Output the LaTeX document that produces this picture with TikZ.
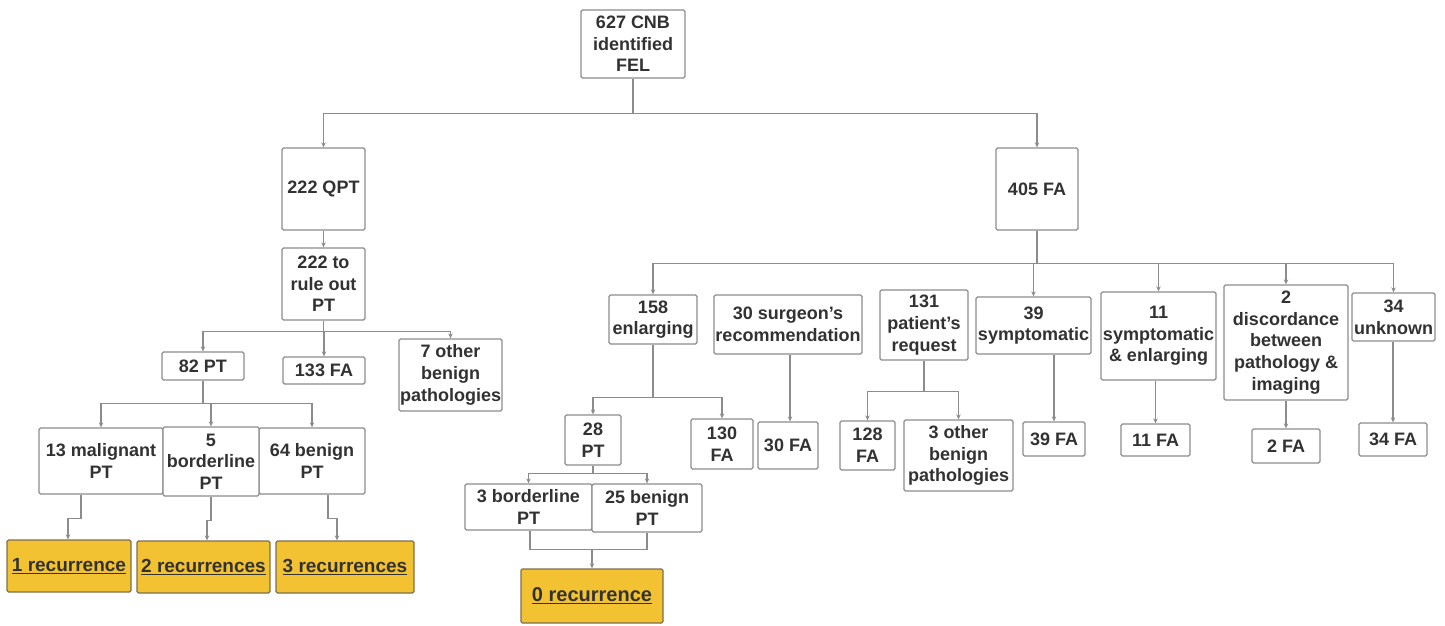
\documentclass[tikz,border=0pt]{standalone}
\usepackage{fontspec}
\setmainfont{Liberation Sans}
\usetikzlibrary{arrows.meta}
\definecolor{recfill}{RGB}{242,194,50}
\definecolor{recedge}{RGB}{125,112,80}
\definecolor{edge}{RGB}{140,140,140}
\definecolor{txt}{RGB}{50,50,50}

\begin{document}
\begin{tikzpicture}[x=1pt,y=1pt,
  box/.style={draw=edge,line width=1.3pt,rounded corners=1.5pt,fill=white,text=txt,align=center,inner sep=0pt,font=\bfseries\fontsize{18}{21.7}\selectfont},
  sz/.style 2 args={minimum width=#1pt,minimum height=#2pt},
  rec/.style={box,fill=recfill,draw=recedge,font=\bfseries\fontsize{19}{22}\selectfont},
  link/.style={draw=edge,line width=1.2pt},
  arr/.style={link,-{Stealth[length=5pt,width=4.5pt]}}]
\useasboundingbox (0,0) rectangle (1445,-625);

% top and first split
\node[box,sz={104}{68}] (top) at (633,-44) {627 CNB\\identified\\FEL};
\node[box,sz={83}{82}] (qpt) at (323.5,-189) {222 QPT};
\node[box,sz={82}{82}] (fa405) at (1037,-189) {405 FA};

% QPT branch
\node[box,sz={83}{72}] (ruleout) at (323.5,-284) {222 to\\rule out\\PT};
\node[box,sz={82}{28}] (pt82) at (203,-366) {82 PT};
\node[box,sz={82}{27}] (fa133) at (324,-370.5) {133 FA};
\node[box,sz={103}{72}] (oth7) at (450.5,-375) {7 other\\benign\\pathologies};
\node[box,sz={124}{66}] (mal13) at (101,-461) {13 malignant\\PT};
\node[box,sz={106}{66}] (ben64) at (312,-461) {64 benign\\PT};
\node[box,sz={96}{69}] (bord5) at (211,-461.5) {5\\borderline\\PT};
\node[rec,sz={124}{52}] (r1) at (69,-566) {\underline{1 recurrence}};
\node[rec,sz={133}{52}] (r2) at (203.5,-567) {\underline{2 recurrences}};
\node[rec,sz={138}{52}] (r3) at (345,-567) {\underline{3 recurrences}};

% FA branch
\node[box,sz={88}{49}] (enl158) at (653,-319.5) {158\\enlarging};
\node[box,sz={148}{59}] (sur30) at (788,-324.5) {30 surgeon’s\\recommendation};
\node[box,sz={88}{70}] (pat131) at (924,-325) {131\\patient’s\\request};
\node[box,sz={115}{57}] (sym39) at (1033.5,-325.5) {39\\symptomatic};
\node[box,sz={115}{88}] (se11) at (1158.5,-336) {11\\symptomatic\\\& enlarging};
\node[box,sz={124}{115}] (dis2) at (1286,-342.5) {2\\discordance\\between\\pathology \&\\imaging};
\node[box,sz={83}{48}] (unk34) at (1393.5,-317) {34\\unknown};

\node[box,sz={56}{50}] (pt28) at (593,-440) {28\\PT};
\node[box,sz={62}{50}] (fa130) at (722,-444) {130\\FA};
\node[box,sz={60}{47}] (fa30) at (788,-445.5) {30 FA};
\node[box,sz={127}{46}] (bd3) at (528.5,-507) {3 borderline\\PT};
\node[box,sz={110}{48}] (bn25) at (647,-508) {25 benign\\PT};
\node[rec,sz={142}{54},font=\bfseries\fontsize{20}{22}\selectfont] (r0) at (592,-596) {\underline{0 recurrence}};

\node[box,sz={55}{49}] (fa128) at (867.5,-445.5) {128\\FA};
\node[box,sz={109}{71}] (oth3) at (958.5,-455.5) {3 other\\benign\\pathologies};
\node[box,sz={62}{34}] (fa39) at (1054,-439) {39 FA};
\node[box,sz={69}{32}] (fa11) at (1155.5,-440) {11 FA};
\node[box,sz={68}{34}] (fa2) at (1286,-446) {2 FA};
\node[box,sz={68}{33}] (fa34) at (1393,-439.5) {34 FA};

% connectors
\foreach \n in {qpt,fa405} \draw[arr] (top.south) -- ++(0,-35) -| (\n.north);
\draw[arr] (qpt) -- (ruleout);
\foreach \n in {pt82,fa133,oth7} \draw[arr] (ruleout.south) -- ++(0,-11) -| (\n.north);
\foreach \n in {mal13,bord5,ben64} \draw[arr] (pt82.south) -- ++(0,-23) -| (\n.north);
\draw[arr] ([xshift=-20pt]mal13.south) -- ++(0,-24) -| ([xshift=-1pt]r1.north);
\draw[arr] (bord5.south) -- ++(0,-24) -| ([xshift=3.5pt]r2.north);
\draw[arr] ([xshift=16pt]ben64.south) -- ++(0,-24) -| ([xshift=-8pt]r3.north);

\foreach \n in {enl158,sym39,se11,dis2,unk34} \draw[arr] (fa405.south) -- ++(0,-33) -| (\n.north);
\foreach \n in {pt28,fa130} \draw[arr] (enl158.south) -- ++(0,-53) -| (\n.north);
\foreach \n in {bd3,bn25} \draw[arr] (pt28.south) -- ++(0,-8) -| (\n.north);
\draw[link] ([xshift=1.5pt]bd3.south) -- ++(0,-19) -| (bn25.south);
\draw[arr] (r0.north |- 0,-549) -- (r0.north);
\draw[arr] ([xshift=2pt]sur30.south) -- ([xshift=2pt]fa30.north);
\foreach \n in {fa128,oth3} \draw[arr] (pat131.south) -- ++(0,-31) -| (\n.north);
\draw[arr] (fa39.north |- sym39.south) -- (fa39.north);
\draw[arr] (fa11.north |- se11.south) -- (fa11.north);
\draw[arr] (dis2) -- (fa2);
\draw[arr] (fa34.north |- unk34.south) -- (fa34.north);
\end{tikzpicture}
\end{document}
